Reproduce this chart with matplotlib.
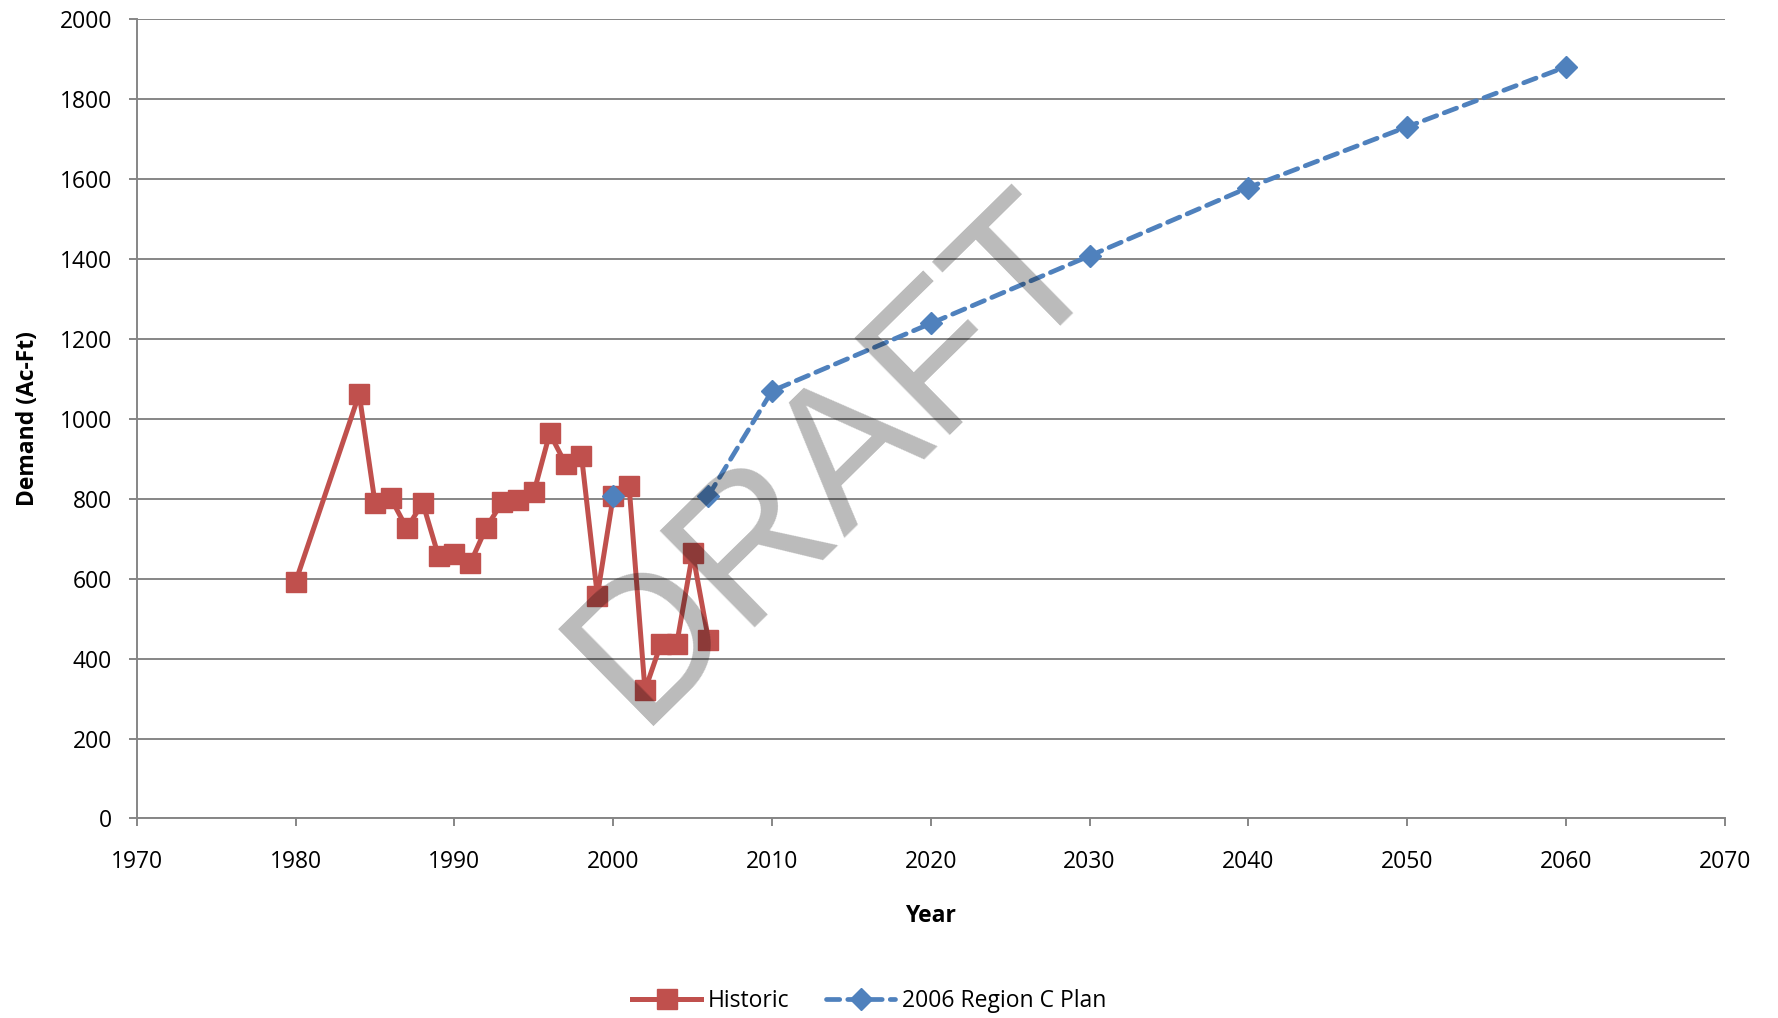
import numpy as np
import matplotlib.pyplot as plt

# historic demand (Ac-Ft)
hist_years = [1980, 1984, 1985, 1986, 1987, 1988, 1989, 1990, 1991, 1992, 1993, 1994,
              1995, 1996, 1997, 1998, 1999, 2000, 2001, 2002, 2003, 2004, 2005, 2006]
hist_demand = [593, 1062, 789, 801, 726, 790, 656, 662, 639, 728, 791, 797,
               816, 964, 887, 908, 558, 807, 831, 321, 437, 437, 664, 447]

# 2006 Region C Plan (first point is shown as a lone marker)
plan_years = [2000, 2006, 2010, 2020, 2030, 2040, 2050, 2060]
plan_demand = [807, 808, 1070, 1239, 1408, 1579, 1731, 1881]

xticks = np.arange(1970, 2071, 10)
yticks = np.arange(0, 2001, 200)

red = '#C0504D'
blue = '#4F81BD'
grey = '#868686'
fnt = ['Open Sans', 'DejaVu Sans']
plt.rcParams['font.family'] = fnt

fig = plt.figure(figsize=(17.78, 10.18), dpi=100)
ax = fig.add_axes([0.077, 0.196, 0.893, 0.785])

ax.plot(hist_years, hist_demand, color=red, lw=3.6, marker='s', ms=14,
        label='Historic', zorder=3)
ax.plot(plan_years[1:], plan_demand[1:], color=blue, lw=3.4, ls=(0, (2.8, 1.7)),
        dash_capstyle='round', marker='D', ms=11, label='2006 Region C Plan', zorder=4)
ax.plot(plan_years[:1], plan_demand[:1], color=blue, lw=0, marker='D', ms=11, zorder=4)

ax.set_xlim(1970, 2070)
ax.set_ylim(0, 2000)
ax.set_xticks(xticks)
ax.set_yticks(yticks)
ax.yaxis.grid(True, color=grey, lw=1.4)
ax.set_axisbelow(True)
for s in ['top', 'right']:
    ax.spines[s].set_visible(False)
for s in ['left', 'bottom']:
    ax.spines[s].set_color(grey)
    ax.spines[s].set_linewidth(1.4)
ax.tick_params(axis='both', color=grey, width=1.4, length=6, labelsize=16.5, direction='out')
ax.tick_params(axis='x', pad=17)
ax.tick_params(axis='y', pad=12)

ax.set_xlabel('Year', fontsize=16.5, fontweight='bold', labelpad=21)
ax.set_ylabel('Demand (Ac-Ft)', fontsize=16.5, fontweight='bold', labelpad=14)

fig.legend(loc='center', bbox_to_anchor=(0.489, 0.0167), ncol=2, frameon=False,
           fontsize=16.5, handlelength=3.0, handletextpad=0.3, columnspacing=1.6)

fig.text(0.4905, 0.5135, 'DRAFT', fontsize=142, color='black', alpha=0.27,
         rotation=44.5, rotation_mode='anchor', ha='center', va='baseline',
         family=['Liberation Sans', 'DejaVu Sans'])

fig.savefig('out.png', dpi=100)
